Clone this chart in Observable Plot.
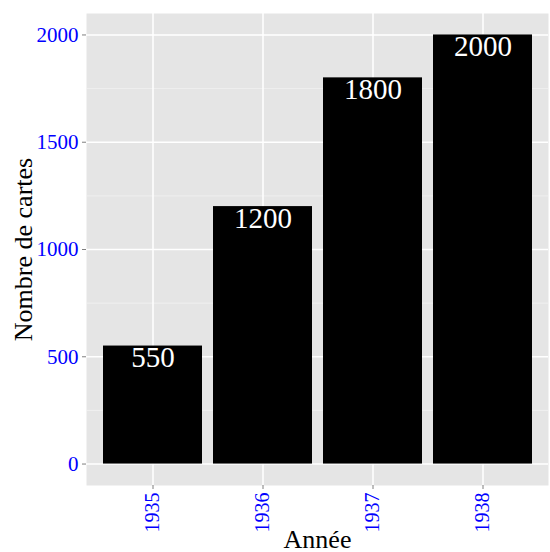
<!DOCTYPE html>
<html>
<head>
<meta charset="utf-8">
<script src="https://cdn.jsdelivr.net/npm/d3@7"></script>
<script src="https://cdn.jsdelivr.net/npm/@observablehq/plot@0.6"></script>
<style>
  html, body { margin: 0; padding: 0; background: white; }
  svg { display: block; }
</style>
</head>
<body>
<div id="chart"></div>
<script>
const years = ["1935", "1936", "1937", "1938"];
const counts = [550, 1200, 1800, 2000];
const yMajor = [0, 500, 1000, 1500, 2000];
const yMinor = [250, 750, 1250, 1750];
const xTitle = "Année";
const yTitle = "Nombre de cartes";

const data = years.map((y, i) => ({annee: y, n: counts[i]}));
const font = "Liberation Serif";

const chart = Plot.plot({
  width: 550,
  height: 552,
  marginLeft: 86,
  marginRight: 2,
  marginTop: 13,
  marginBottom: 67,
  style: {fontFamily: font, background: "white"},
  x: {domain: years, paddingInner: 0.1, paddingOuter: 0.15, axis: null},
  y: {domain: [-100, 2100], axis: null},
  marks: [
    Plot.frame({fill: "#E5E5E5", stroke: null}),
    Plot.ruleY(yMinor, {stroke: "#F2F2F2", strokeWidth: 0.8}),
    Plot.ruleY(yMajor, {stroke: "white", strokeWidth: 1.5}),
    Plot.ruleX(years, {stroke: "white", strokeWidth: 1.5}),
    Plot.barY(data, {x: "annee", y: "n", fill: "black"}),
    Plot.text(data, {x: "annee", y: "n", text: d => String(d.n), fill: "white", fontSize: 29, fontFamily: font, lineAnchor: "bottom", dy: 21}),
    Plot.axisY({ticks: yMajor, tickSize: 4, tickPadding: 4, stroke: "#7F7F7F", fill: "blue", fontSize: 21, fontFamily: font, fontVariant: "normal", label: null, tickFormat: d => String(d)}),
    Plot.axisX({tickSize: 4, tickPadding: 3, tickRotate: -90, stroke: "#7F7F7F", fill: "blue", fontSize: 20, fontFamily: font, fontVariant: "normal", label: null}),
    Plot.text([xTitle], {frameAnchor: "bottom", text: d => d, fontSize: 26, fontFamily: font, fill: "black", textAnchor: "middle", lineAnchor: "bottom", dy: 62}),
    Plot.text([yTitle], {frameAnchor: "left", text: d => d, fontSize: 26, fontFamily: font, fill: "black", rotate: -90, textAnchor: "middle", lineAnchor: "bottom", dx: -55})
  ]
});
document.getElementById("chart").appendChild(chart);
</script>
</body>
</html>
